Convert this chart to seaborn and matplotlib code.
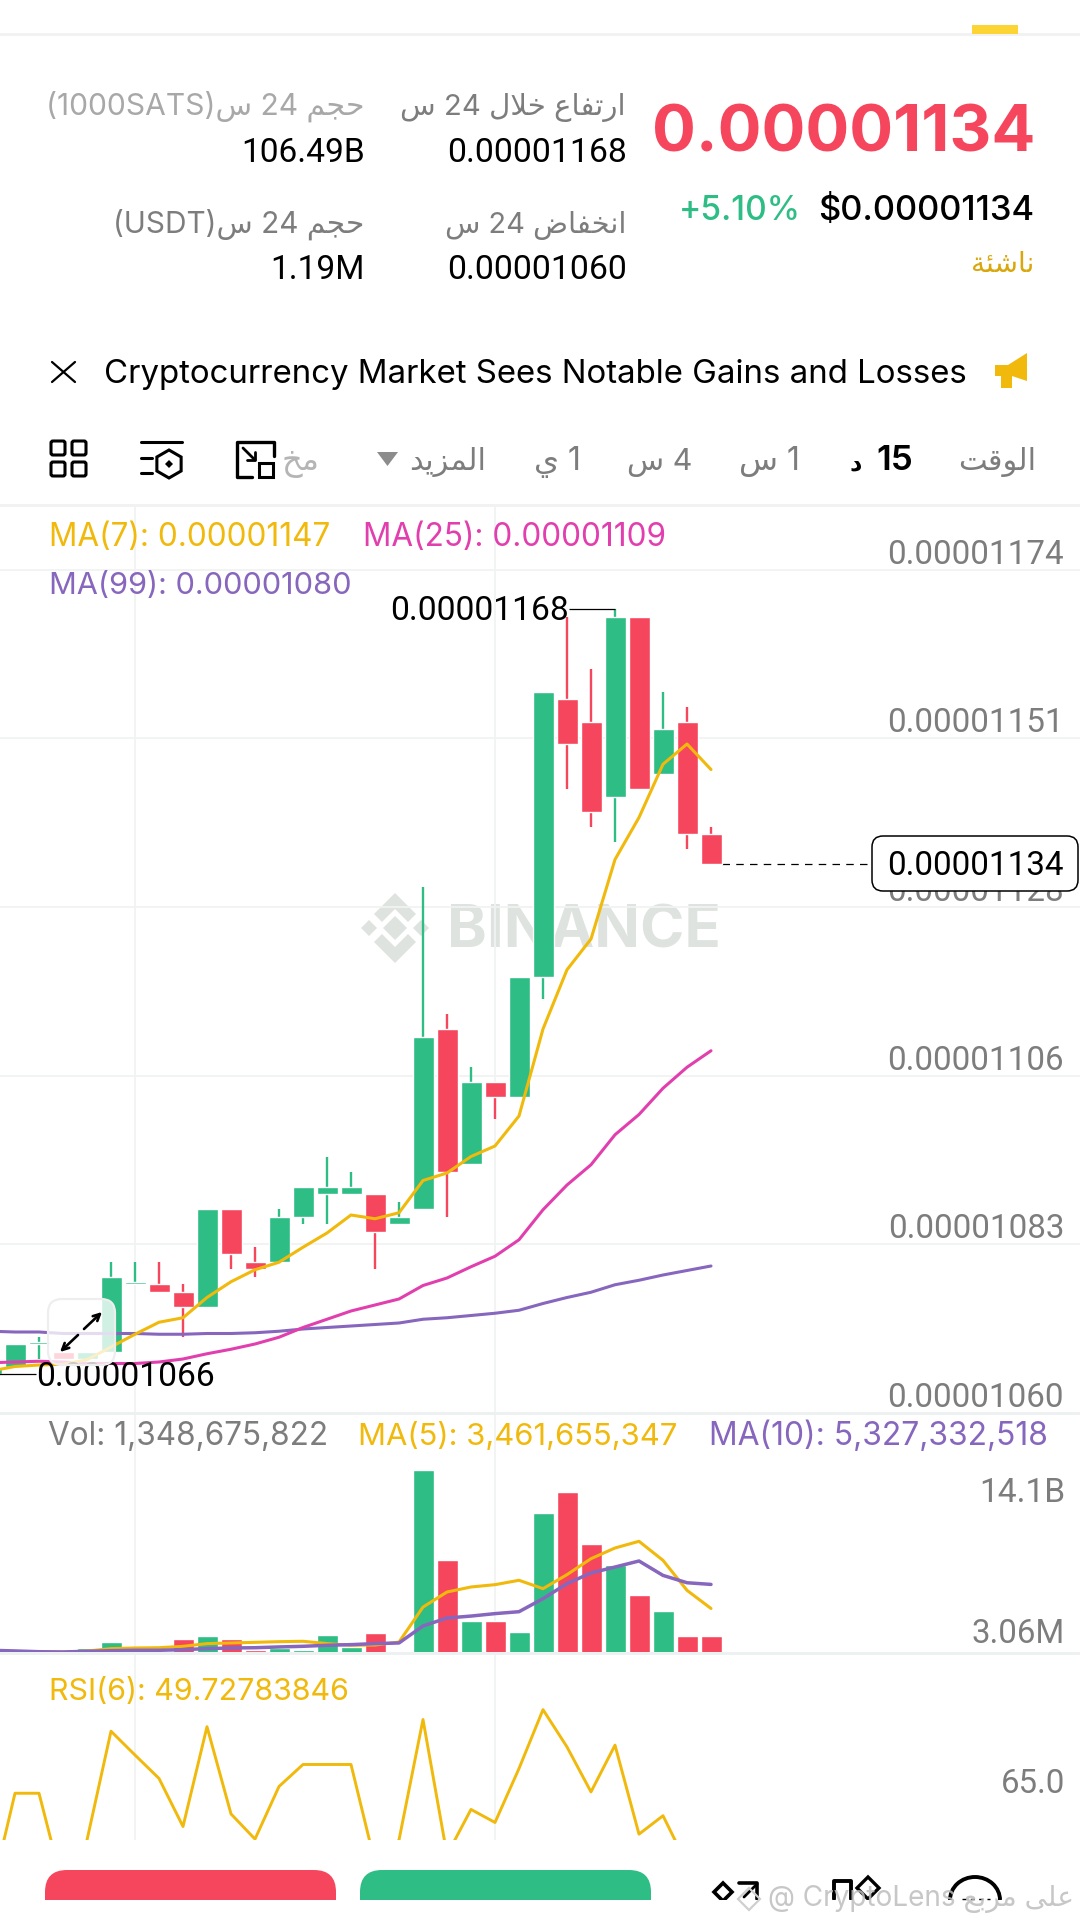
import re
import unicodedata
import numpy as np
import pandas as pd
import seaborn as sns
import matplotlib.pyplot as plt
from matplotlib.patches import Polygon, Rectangle, FancyBboxPatch, Arc, RegularPolygon

# candle data, unit is 1e-8, first candle is cut by the left edge
idx = list(range(-1, 30))
opens = [1066, 1067, 1070, 1069, 1068, 1069, 1078, 1078, 1077, 1075, 1088, 1081, 1081, 1087, 1090, 1090,
         1090, 1086, 1088, 1112, 1094, 1105, 1103, 1119, 1156, 1153, 1143, 1167, 1146, 1153, 1138]
closes = [1067, 1070, 1070, 1068, 1069, 1079, 1078, 1077, 1075, 1088, 1082, 1080, 1087, 1091, 1091, 1091,
          1085, 1087, 1111, 1093, 1105, 1103, 1119, 1157, 1150, 1141, 1167, 1144, 1152, 1138, 1134]
highs = [1067, 1070, 1071, 1069, 1069, 1081, 1081, 1081, 1078, 1088, 1088, 1083, 1088, 1091, 1095, 1093,
         1090, 1089, 1131, 1114, 1107, 1105, 1119, 1157, 1167, 1160, 1168, 1167, 1157, 1155, 1139]
lows = [1066, 1067, 1068, 1068, 1068, 1069, 1078, 1077, 1071, 1075, 1080, 1079, 1081, 1086, 1086, 1090,
        1080, 1086, 1088, 1087, 1094, 1100, 1103, 1116, 1144, 1139, 1137, 1144, 1146, 1136, 1134]

ma7 = [1066.4, 1067.0, 1067.2, 1067.3, 1067.9, 1069.6, 1071.3, 1072.9, 1073.5, 1076.2, 1078.3, 1079.9, 1080.9,
       1082.9, 1084.8, 1087.2, 1086.7, 1087.5, 1091.8, 1092.8, 1095.0, 1096.4, 1100.4, 1112.0, 1119.9, 1124.0,
       1134.6, 1140.2, 1147.3, 1150.0, 1146.6]
ma25 = [1067.5, 1067.6, 1067.7, 1067.6, 1067.4, 1067.4, 1067.4, 1067.6, 1068.0, 1068.7, 1069.3, 1070.0, 1070.9,
        1072.2, 1073.3, 1074.4, 1075.2, 1076.0, 1077.8, 1078.8, 1080.3, 1081.7, 1083.9, 1087.9, 1091.2, 1093.9,
        1097.9, 1100.6, 1104.1, 1106.9, 1109.1]
ma99 = [1071.7, 1071.6, 1071.6, 1071.4, 1071.4, 1071.4, 1071.4, 1071.3, 1071.3, 1071.4, 1071.4, 1071.5, 1071.7,
        1072.0, 1072.2, 1072.4, 1072.6, 1072.8, 1073.3, 1073.5, 1073.8, 1074.1, 1074.5, 1075.4, 1076.2, 1076.9,
        1077.9, 1078.5, 1079.2, 1079.8, 1080.4]

# volume in billions
volume = [0.05, 0.04, 0.04, 0.05, 0.36, 0.85, 0.03, 0.03, 1.09, 1.30, 1.06, 0.21, 0.36, 0.23, 1.40, 0.44,
          1.53, 0.05, 14.2, 7.25, 2.49, 2.46, 1.63, 10.9, 12.5, 8.5, 6.84, 4.53, 3.26, 1.35, 1.35]
vol_ma5 = [0.16, 0.08, 0.08, 0.08, 0.15, 0.34, 0.39, 0.41, 0.52, 0.73, 0.78, 0.83, 0.88, 0.91, 0.73, 0.60,
           0.62, 0.85, 3.57, 4.74, 5.13, 5.31, 5.65, 5.00, 6.09, 7.33, 8.16, 8.68, 7.20, 4.87, 3.46]
vol_ma10 = [0.21, 0.16, 0.10, 0.08, 0.13, 0.18, 0.21, 0.21, 0.26, 0.34, 0.39, 0.41, 0.47, 0.52, 0.60, 0.65,
            0.73, 0.78, 2.10, 2.72, 2.87, 3.06, 3.21, 4.22, 5.39, 6.22, 6.68, 7.15, 6.03, 5.46, 5.33]

rsi = [43.9, 66.5, 66.5, 45.7, 56.1, 80.3, 75.0, 69.8, 59.1, 81.3, 61.9, 56.3, 68.0, 72.9, 72.9, 72.9,
       51.0, 56.1, 82.9, 52.8, 62.9, 60.0, 72.0, 85.1, 76.8, 66.8, 77.2, 57.4, 61.5, 50.7, 49.73]

price_grid = [1060.8, 1083.3, 1105.7, 1128.3, 1150.8, 1173.2]
price_labels = ['0.00001060', '0.00001083', '0.00001106', '0.00001128', '0.00001151', '0.00001174']
v_grid = [5, 20]

GREEN = '#2EBD85'
RED = '#F6465D'
GOLD = '#F0B90B'
PINK = '#E23FAE'
PURPLE = '#8766BE'
GRID = '#F1F2F2'
GRAY = '#7D7D7D'
W, H = 1080, 1922
FONT = ['Inter', 'DejaVu Sans']
NUM_FONT = ['Roboto', 'DejaVu Sans']  # same width digits for the price numbers

sns.set_theme(style='white')
plt.rcParams['font.family'] = FONT

NO_JOIN = 'ادذرزوةىأإآؤء'


# matplotlib does no arabic shaping, so pick the presentation forms by hand
def shape(word):
    out = []
    i = 0
    while i < len(word):
        ch = word[i]
        prev = i > 0 and word[i - 1] not in NO_JOIN
        if ch == 'ل' and i + 1 < len(word) and word[i + 1] == 'ا':
            out.append('\uFEFC' if prev else '\uFEFB')
            i += 2
            continue
        nxt = i + 1 < len(word) and ch not in NO_JOIN
        form = {(0, 0): 'ISOLATED', (1, 0): 'FINAL', (0, 1): 'INITIAL', (1, 1): 'MEDIAL'}[(int(prev), int(nxt))]
        out.append(unicodedata.lookup(unicodedata.name(ch) + ' ' + form + ' FORM'))
        i += 1
    return ''.join(reversed(out))


def ar(text):
    tokens = re.findall(r'[\u0600-\u06FF]+|[^\u0600-\u06FF\s]+|\s+', text)
    tokens = [shape(t) if re.match(r'[\u0600-\u06FF]', t) else t for t in tokens]
    return ''.join(reversed(tokens))


def px_axes(top, bottom, z):
    a = fig.add_axes([0, 1 - bottom / H, 1, (bottom - top) / H], zorder=z)
    a.patch.set_visible(False)
    return a


def style_axes(a):
    a.set_xlim(-15 / 24, (W - 15) / 24)
    a.set_xticks(v_grid)
    a.grid(True, color=GRID, lw=1.3)
    a.set_axisbelow(True)
    a.tick_params(length=0, labelleft=False, labelbottom=False)
    a.set_xlabel('')
    a.set_ylabel('')
    for s in a.spines.values():
        s.set_visible(False)


fig = plt.figure(figsize=(W / 100, H / 100), dpi=100, facecolor='white')

ax_bg = px_axes(0, H, 0)
ax_bg.set_xlim(0, W)
ax_bg.set_ylim(H, 0)
ax_bg.axis('off')

ax_price = px_axes(507, 1413, 1)
ax_vol = px_axes(1413, 1653, 1)
ax_rsi = px_axes(1653, 1840, 1)

ax_ui = px_axes(0, H, 5)
ax_ui.set_xlim(0, W)
ax_ui.set_ylim(H, 0)
ax_ui.axis('off')


def txt(x, y, s, size, color='black', ha='left', weight='normal', ax=ax_ui, fam=FONT, **kw):
    return ax.text(x, y, s, fontsize=size * 0.72, color=color, ha=ha, va='baseline', weight=weight, family=fam, **kw)


# candles
df = pd.DataFrame({'i': idx, 'o': opens, 'c': closes, 'h': highs, 'l': lows})
df['color'] = np.where(df['c'] >= df['o'], GREEN, RED)
body = (df['c'] - df['o']).abs().clip(lower=0.3)
ax_price.vlines(df['i'], df['l'], df['h'], colors=df['color'], lw=1.7, zorder=2)
ax_price.bar(df['i'], body, bottom=df[['o', 'c']].min(axis=1), width=0.875, color=df['color'], zorder=3)

sns.lineplot(x=idx, y=ma99, color=PURPLE, lw=2.2, ax=ax_price, zorder=4)
sns.lineplot(x=idx, y=ma25, color=PINK, lw=2.2, ax=ax_price, zorder=4)
sns.lineplot(x=idx, y=ma7, color=GOLD, lw=2.2, ax=ax_price, zorder=5)
ax_price.set_ylim(1060.8, 1181.6)
ax_price.set_yticks(price_grid)
style_axes(ax_price)

for lev, lab in zip(price_grid, price_labels):
    ax_price.annotate(lab, xy=(1, lev), xycoords=ax_price.get_yaxis_transform(), xytext=(-16 * 0.72, 6 * 0.72),
                      textcoords='offset points', ha='right', va='baseline', fontsize=33.2 * 0.72, color=GRAY,
                      family=NUM_FONT)

# high and low markers
ax_price.hlines(highs[26], 23.08, 25, colors='black', lw=0.9, zorder=6)
ax_price.annotate('0.00001168', xy=(25, highs[26]), xytext=(-46 * 0.72, -11 * 0.72), textcoords='offset points', ha='right',
                  va='baseline', fontsize=33.6 * 0.72, color='black', family=NUM_FONT, zorder=6)
ax_price.hlines(min(lows), -1, 0.875, colors='black', lw=0.9, zorder=6)
ax_price.annotate('0.00001066', xy=(-1, min(lows)), xytext=(45 * 0.72, -12 * 0.72), textcoords='offset points', ha='left',
                  va='baseline', fontsize=33.6 * 0.72, color='black', family=NUM_FONT, annotation_clip=False, zorder=6)
ax_price.hlines(closes[-1], 29.45, 35.7, colors='black', lw=0.9, linestyles=(0, (6, 5)), zorder=2)

# volume
vdf = pd.DataFrame({'i': idx, 'v': volume, 'color': df['color']})
sns.barplot(data=vdf, x='i', y='v', hue='color', palette={GREEN: GREEN, RED: RED}, native_scale=True, dodge=False,
            width=0.875, saturation=1, legend=False, errorbar=None, ax=ax_vol)
sns.lineplot(x=idx, y=vol_ma5, color=GOLD, lw=2.2, ax=ax_vol, zorder=5)
sns.lineplot(x=idx, y=vol_ma10, color=PURPLE, lw=2.5, ax=ax_vol, zorder=6)
ax_vol.set_ylim(0, 18.65)
ax_vol.set_yticks([])
style_axes(ax_vol)

# rsi
sns.lineplot(x=idx, y=rsi, color=GOLD, lw=2.1, ax=ax_rsi)
ax_rsi.set_ylim(56.1, 97.7)
ax_rsi.set_yticks([])
style_axes(ax_rsi)

# watermark behind the chart
txt(447, 948, 'BINANCE', 60, color='#DFE3DF', weight='bold', ax=ax_bg)
lx, ly = 395, 928
for dx, dy, r in [(0, 0, 12), (-26, 0, 8), (26, 0, 8)]:
    ax_bg.add_patch(RegularPolygon((lx + dx, ly + dy), 4, radius=r, color='#DFE3DF', lw=0))
ax_bg.add_patch(Polygon([(lx, ly - 35), (lx + 21, ly - 14), (lx + 13, ly - 6), (lx, ly - 19), (lx - 13, ly - 6),
                         (lx - 21, ly - 14)], color='#DFE3DF', lw=0))
ax_bg.add_patch(Polygon([(lx, ly + 35), (lx + 21, ly + 14), (lx + 13, ly + 6), (lx, ly + 19), (lx - 13, ly + 6),
                         (lx - 21, ly + 14)], color='#DFE3DF', lw=0))

# header
ax_ui.add_patch(Rectangle((0, 33), W, 3, color='#F2F2F2', lw=0))
ax_ui.add_patch(Rectangle((972, 25), 46, 9, color='#FCD535', lw=0))

txt(1035, 152, '0.00001134', 65, color=RED, ha='right', weight='bold')
txt(1034, 220, '$0.00001134', 34.5, ha='right', weight='medium')
txt(801, 220, '+5.10%', 33.5, color=GREEN, ha='right', weight='medium')
txt(1034, 272, ar('ناشئة'), 28, color='#D9A70C', ha='right')

txt(626, 115, ar('ارتفاع خلال 24 س'), 29.3, color=GRAY, ha='right')
txt(627, 162, '0.00001168', 33.8, ha='right', fam=NUM_FONT)
txt(626, 233, ar('انخفاض 24 س'), 29, color=GRAY, ha='right')
txt(627, 279, '0.00001060', 33.8, ha='right', fam=NUM_FONT)
txt(364, 115, ar('حجم 24 س(1000SATS)'), 30, color='#A8A8A8', ha='right')
txt(365, 162, '106.49B', 33.5, ha='right', fam=NUM_FONT)
txt(364, 233, ar('حجم 24 س(USDT)'), 29.8, color=GRAY, ha='right')
txt(365, 279, '1.19M', 33.5, ha='right', fam=NUM_FONT)

# news line
ax_ui.plot([52, 75], [362, 382], color='black', lw=1.6)
ax_ui.plot([75, 52], [362, 382], color='black', lw=1.6)
txt(104, 383, 'Cryptocurrency Market Sees Notable Gains and Losses', 33)
ax_ui.add_patch(Polygon([(995, 365), (1008, 365), (1027, 353), (1027, 381), (1012, 376), (1012, 388), (1001, 388),
                         (1001, 376), (995, 376)], color=GOLD, lw=0))

# toolbar
txt(1036, 470, ar('الوقت'), 30.5, color=GRAY, ha='right')
txt(913, 470, '15', 35, ha='right', weight='semibold')
txt(862, 470, ar('د'), 24, ha='right', weight='bold')
txt(800, 470, ar('1 س'), 32, color=GRAY, ha='right')
txt(692, 470, ar('4 س'), 30.5, color=GRAY, ha='right')
txt(581, 470, ar('1 ي'), 32, color=GRAY, ha='right')
txt(486, 470, ar('المزيد'), 30.5, color=GRAY, ha='right')
ax_ui.add_patch(Polygon([(377, 452), (398, 452), (387.5, 466)], color='#8C8C8C', lw=0))
txt(319, 470, ar('مخ'), 32, color='#B5B5B5', ha='right')

# toolbar icons
ax_ui.plot([274, 274, 237, 237, 252], [456, 442, 442, 477, 477], color='black', lw=2.4)
ax_ui.plot([243, 255], [448, 460], color='black', lw=2.0)
ax_ui.plot([255, 255, 247], [452, 460, 460], color='black', lw=2.0)
ax_ui.add_patch(Rectangle((259, 463), 14, 14, fill=False, ec='black', lw=2.2))
ax_ui.plot([141, 182], [442, 442], color='black', lw=2.2)
ax_ui.plot([141, 152], [458, 458], color='black', lw=2.2)
ax_ui.plot([141, 152], [473, 473], color='black', lw=2.2)
ax_ui.add_patch(RegularPolygon((169, 464), 6, radius=14, fill=False, ec='black', lw=2.2))
ax_ui.add_patch(RegularPolygon((169, 464), 4, radius=4, color='black', lw=0))
for gx in (51, 72):
    for gy in (441, 462):
        ax_ui.add_patch(FancyBboxPatch((gx, gy), 14, 14, boxstyle='round,pad=0,rounding_size=2', fill=False,
                                       ec='black', lw=2.2))
ax_ui.add_patch(Rectangle((0, 504), W, 3, color='#F2F2F2', lw=0))

# legends
txt(49, 546, 'MA(7): 0.00001147', 31.5, color=GOLD)
txt(363, 546, 'MA(25): 0.00001109', 31.5, color=PINK)
txt(49, 594, 'MA(99): 0.00001080', 30.7, color=PURPLE)
txt(48, 1445, 'Vol: 1,348,675,822', 31.5, color=GRAY)
txt(358, 1445, 'MA(5): 3,461,655,347', 31, color=GOLD)
txt(709, 1445, 'MA(10): 5,327,332,518', 31.8, color=PURPLE)
txt(49, 1700, 'RSI(6): 49.72783846', 30.4, color=GOLD)
txt(1065, 1502, '14.1B', 33.5, color=GRAY, ha='right', fam=NUM_FONT)
txt(1065, 1643, '3.06M', 33, color=GRAY, ha='right', fam=NUM_FONT)
txt(1065, 1793, '65.0', 33, color=GRAY, ha='right', fam=NUM_FONT)
ax_ui.add_patch(Rectangle((0, 1412), W, 2.5, color='#EEF1F1', lw=0))
ax_ui.add_patch(Rectangle((0, 1652), W, 2.5, color='#EEF1F1', lw=0))

# current price tag
ax_ui.add_patch(FancyBboxPatch((872, 836), 206, 55, boxstyle='round,pad=0,rounding_size=11', fc='white', ec='black',
                               lw=1.1))
txt(975, 875, '0.00001134', 33.2, ha='center', fam=NUM_FONT)

# expand button over the chart
ax_ui.add_patch(FancyBboxPatch((48, 1299), 67, 66, boxstyle='round,pad=0,rounding_size=14', fc=(1, 1, 1, 0.78),
                               ec='#EEEEEE', lw=1.6))
ax_ui.annotate('', xy=(102, 1312), xytext=(84, 1329), arrowprops=dict(arrowstyle='->', color='black', lw=1.9, shrinkA=0, shrinkB=0))
ax_ui.annotate('', xy=(60, 1352), xytext=(78, 1335), arrowprops=dict(arrowstyle='->', color='black', lw=1.9, shrinkA=0, shrinkB=0))

# bottom bar
for x0, col in [(45, RED), (360, GREEN)]:
    ax_ui.add_patch(FancyBboxPatch((x0, 1870), 291, 60, boxstyle='round,pad=0,rounding_size=22', fc=col, ec='none', lw=0))
ax_ui.add_patch(Rectangle((0, 1900), W, 22, color='white', lw=0, zorder=3))

ax_ui.add_patch(RegularPolygon((723, 1892), 4, radius=9, fill=False, ec='black', lw=2.6))
ax_ui.plot([739, 757, 757], [1883, 1883, 1899], color='black', lw=2.6)
ax_ui.plot([744, 757], [1897, 1884], color='black', lw=2.0)
ax_ui.plot([834, 834, 851, 851], [1899, 1881, 1881, 1899], color='black', lw=2.8)
ax_ui.add_patch(RegularPolygon((868, 1888), 4, radius=11, fill=False, ec='black', lw=2.4))
ax_ui.add_patch(Arc((975, 1900), 50, 46, theta1=180, theta2=360, color='black', lw=2.8, zorder=3.5))
ax_ui.plot([962, 990], [1899, 1899], color='black', lw=1.0, ls=(0, (3, 3)), zorder=3.5)

# repost watermark
ax_ui.add_patch(RegularPolygon((749, 1899), 4, radius=11, fill=False, ec='#CFCFCF', lw=1.6, zorder=4))
txt(768, 1906, '@ CryptoLens ' + ar('على مربع') + ' ...', 28, color='#BDBDBD', zorder=4, alpha=0.85)

fig.savefig('out.png', dpi=100)
